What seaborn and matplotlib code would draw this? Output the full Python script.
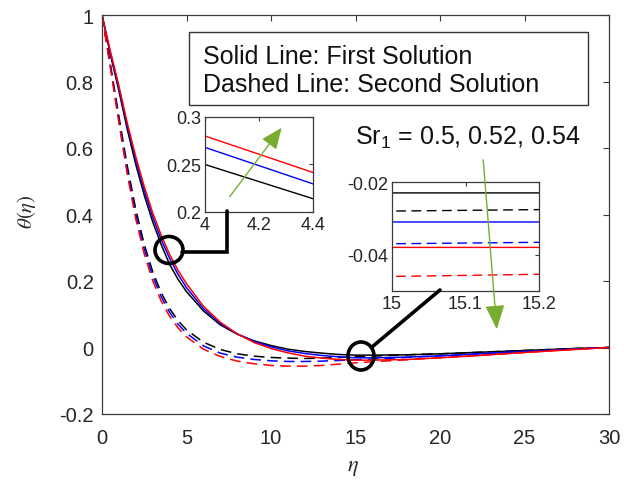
import numpy as np
import pandas as pd
import matplotlib
matplotlib.use("Agg")
import matplotlib.pyplot as plt
import seaborn as sns
from matplotlib.patches import Ellipse, Rectangle, FancyArrowPatch
from matplotlib.lines import Line2D

# ---------------- data ----------------
eta = [0, 0.5, 1, 1.5, 2, 2.5, 3, 3.5, 4, 4.5, 5, 6, 7, 8, 9, 10,
       11, 12, 13, 14, 15, 16, 18, 20, 22, 25, 28, 30]

# First solution (solid)
first_050 = [1.0, 0.88, 0.772, 0.655, 0.55, 0.458, 0.378, 0.31, 0.25, 0.205, 0.168,
             0.11, 0.068, 0.04, 0.02, 0.006, -0.005, -0.012, -0.017, -0.021,
             -0.023, -0.023, -0.022, -0.019, -0.015, -0.009, -0.003, 0.0]
first_052 = [1.0, 0.885, 0.78, 0.665, 0.563, 0.472, 0.393, 0.325, 0.268, 0.22, 0.18,
             0.117, 0.072, 0.041, 0.018, 0.002, -0.01, -0.018, -0.024, -0.028,
             -0.031, -0.031, -0.029, -0.025, -0.02, -0.012, -0.005, 0.0]
first_054 = [1.0, 0.89, 0.787, 0.674, 0.573, 0.484, 0.405, 0.338, 0.28, 0.232, 0.192,
             0.124, 0.076, 0.041, 0.015, -0.003, -0.016, -0.026, -0.032, -0.036,
             -0.038, -0.038, -0.036, -0.031, -0.025, -0.015, -0.006, 0.0]

# Second solution (dashed)
second_050 = [1.0, 0.85, 0.695, 0.545, 0.415, 0.31, 0.228, 0.165, 0.117, 0.081, 0.053,
              0.016, -0.006, -0.019, -0.026, -0.03, -0.032, -0.033, -0.032, -0.03,
              -0.028, -0.026, -0.022, -0.019, -0.015, -0.009, -0.003, 0.0]
second_052 = [1.0, 0.845, 0.685, 0.532, 0.4, 0.295, 0.215, 0.153, 0.106, 0.07, 0.043,
              0.005, -0.017, -0.029, -0.036, -0.04, -0.042, -0.042, -0.041, -0.039,
              -0.037, -0.035, -0.03, -0.025, -0.02, -0.012, -0.004, 0.0]
second_054 = [1.0, 0.84, 0.675, 0.52, 0.386, 0.281, 0.201, 0.14, 0.094, 0.059, 0.032,
              -0.005, -0.027, -0.041, -0.049, -0.054, -0.056, -0.056, -0.054, -0.05,
              -0.046, -0.043, -0.037, -0.031, -0.025, -0.015, -0.005, 0.0]

sr_values = ["0.5", "0.52", "0.54"]
sr_colors = {"0.5": "#000000", "0.52": "#0000FF", "0.54": "#FF0000"}

main_xticks = [0, 5, 10, 15, 20, 25, 30]
main_yticks = [-0.2, 0, 0.2, 0.4, 0.6, 0.8, 1.0]
main_ylabels = ["-0.2", "0", "0.2", "0.4", "0.6", "0.8", "1"]
in1_xticks = [4, 4.2, 4.4]
in1_xlabels = ["4", "4.2", "4.4"]
in1_yticks = [0.2, 0.25, 0.3]
in1_ylabels = ["0.2", "0.25", "0.3"]
in2_xticks = [15, 15.1, 15.2]
in2_xlabels = ["15", "15.1", "15.2"]
in2_yticks = [-0.04, -0.02]
in2_ylabels = ["-0.04", "-0.02"]

legend_lines = ["Solid Line: First Solution", "Dashed Line: Second Solution"]
sr_label = r"Sr$_{\mathrm{1}}$ = 0.5, 0.52, 0.54"

# ---------------- table ----------------
rows = []
for sr, fs, ss in zip(sr_values, [first_050, first_052, first_054],
                      [second_050, second_052, second_054]):
    for e, v in zip(eta, fs):
        rows.append((e, v, sr, "First"))
    for e, v in zip(eta, ss):
        rows.append((e, v, sr, "Second"))
df = pd.DataFrame(rows, columns=["eta", "theta", "Sr", "Solution"])

# ---------------- style ----------------
sns.set_style("white")
plt.rcParams["font.family"] = ["Liberation Sans", "DejaVu Sans"]
plt.rcParams["mathtext.fontset"] = "custom"
plt.rcParams["mathtext.rm"] = "Liberation Sans"
plt.rcParams["mathtext.it"] = "Liberation Sans:italic"

W, H = 624, 481
fig = plt.figure(figsize=(W / 100, H / 100), dpi=100)
fig.patch.set_facecolor("white")

def fbox(x0, y0, x1, y1):
    return [x0 / W, 1 - y1 / H, (x1 - x0) / W, (y1 - y0) / H]

def fx(x):
    return x / W

def fy(y):
    return 1 - y / H

spine_c = "#3a3a3a"
text_c = "#262626"
dash_pat = {"First": "", "Second": (7, 4)}


def draw_lines(ax, lw):
    for sr in sr_values:
        sub = df[df["Sr"] == sr]
        sns.lineplot(data=sub, x="eta", y="theta", style="Solution",
                     dashes=dash_pat, color=sr_colors[sr], sort=False,
                     estimator=None, legend=False, linewidth=lw, ax=ax)
    ax.set_xlabel("")
    ax.set_ylabel("")


def style_axes(ax, fs):
    for s in ax.spines.values():
        s.set_color(spine_c)
        s.set_linewidth(0.9)
        s.set_visible(True)
    ax.tick_params(direction="in", top=True, right=True, length=4,
                   width=0.8, color=spine_c, labelsize=fs, labelcolor=text_c,
                   pad=4)

# ---------------- main axes ----------------
ax = fig.add_axes(fbox(102, 16, 609, 415))
draw_lines(ax, 1.1)
ax.set_xlim(0, 30)
ax.set_ylim(-0.2, 1.0)
ax.set_xticks(main_xticks)
ax.set_xticklabels([str(t) for t in main_xticks])
ax.set_yticks(main_yticks)
ax.set_yticklabels(main_ylabels)
style_axes(ax, 14.5)
ax.tick_params(axis="x", pad=10)
ax.tick_params(axis="y", pad=6)
fig.text(fx(353), fy(468), r"$\eta$", math_fontfamily="stix", fontsize=16,
         ha="center", va="center", color=text_c)
fig.text(fx(27), fy(212), r"$\theta(\eta)$", math_fontfamily="stix", fontsize=15,
         ha="center", va="center", rotation=90, color=text_c)

# ---------------- legend box ----------------
fig.add_artist(Rectangle((fx(189), fy(106)), (588 - 189) / W, (106 - 33) / H,
                         transform=fig.transFigure, facecolor="white",
                         edgecolor="#333333", linewidth=1.0, zorder=5))
fig.text(fx(203), fy(64), legend_lines[0], fontsize=18, color="#111111",
         ha="left", va="baseline", zorder=6)
fig.text(fx(203), fy(92), legend_lines[1], fontsize=18, color="#111111",
         ha="left", va="baseline", zorder=6)

fig.text(fx(355), fy(145), sr_label, fontsize=18, color="#111111",
         ha="left", va="baseline", zorder=6)

# ---------------- inset 1 ----------------
ax1 = fig.add_axes(fbox(205, 118, 313, 213))
ax1.set_zorder(7)
draw_lines(ax1, 1.0)
ax1.set_xlim(4, 4.4)
ax1.set_ylim(0.2, 0.3)
ax1.set_xticks(in1_xticks)
ax1.set_xticklabels(in1_xlabels)
ax1.set_yticks(in1_yticks)
ax1.set_yticklabels(in1_ylabels)
style_axes(ax1, 13)
ax1.tick_params(length=3, pad=3)
ax1.add_patch(FancyArrowPatch((4.085, 0.2137), (4.29, 0.291),
                              arrowstyle="-|>,head_length=1.3,head_width=0.55",
                              mutation_scale=10, color="#77AC30", lw=1.0,
                              zorder=10, clip_on=False))

# ---------------- inset 2 ----------------
ax2 = fig.add_axes(fbox(392, 183, 539, 292))
ax2.set_zorder(7)
draw_lines(ax2, 1.0)
ax2.set_xlim(15, 15.2)
ax2.set_ylim(-0.05, -0.02)
ax2.set_xticks(in2_xticks)
ax2.set_xticklabels(in2_xlabels)
ax2.set_yticks(in2_yticks)
ax2.set_yticklabels(in2_ylabels)
style_axes(ax2, 13)
ax2.tick_params(length=3, pad=3)

# ---------------- annotations (circles, connectors, arrow) ----------------
over = fig.add_axes([0, 0, 1, 1], facecolor="none")
over.set_zorder(9)
over.set_xlim(0, W)
over.set_ylim(H, 0)
over.axis("off")
over.add_patch(Ellipse((169, 251), 28, 27, fill=False, edgecolor="black", lw=2.6))
over.add_patch(Ellipse((361, 357), 26, 28, fill=False, edgecolor="black", lw=2.6))
over.add_line(Line2D([182, 227, 227], [253, 253, 212], color="black", lw=2.6,
                     solid_joinstyle="miter"))
over.add_line(Line2D([372, 440], [348, 291], color="black", lw=2.6))
over.add_patch(FancyArrowPatch((483, 158), (497, 333),
                               arrowstyle="-|>,head_length=1.5,head_width=0.6",
                               mutation_scale=10, color="#77AC30", lw=1.0))

fig.savefig("out.png", dpi=100, facecolor="white")
